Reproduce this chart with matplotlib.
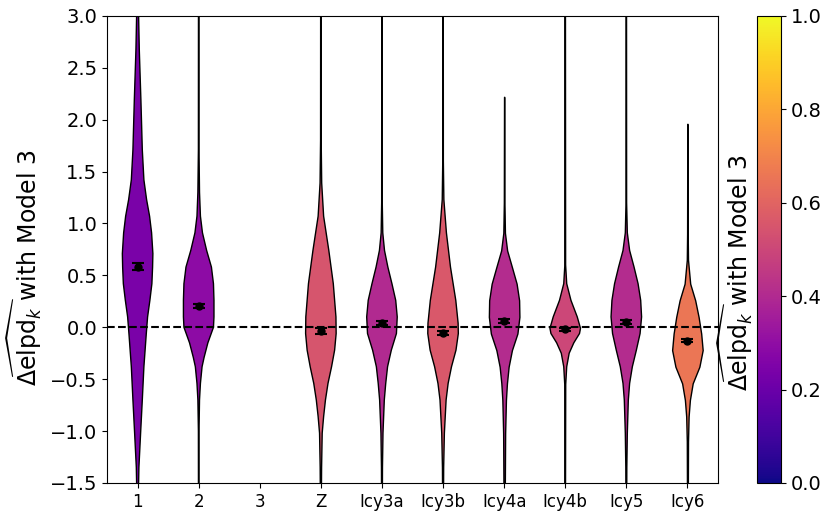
import numpy as np
import matplotlib
matplotlib.use("Agg")
import matplotlib.pyplot as plt
from matplotlib.cm import ScalarMappable
from matplotlib.colors import Normalize

# categories and positions (model 3 is the reference, no violin)
labels = ["1", "2", "3", "Z", "Icy3a", "Icy3b", "Icy4a", "Icy4b", "Icy5", "Icy6"]
positions = [1, 2, 4, 5, 6, 7, 8, 9, 10]

# colour value of each violin on the colorbar scale
cvals = [0.24, 0.29, 0.55, 0.40, 0.56, 0.41, 0.50, 0.41, 0.66]

# mean and error of each model
means = [0.584, 0.205, -0.036, 0.045, -0.058, 0.06, -0.02, 0.048, -0.129]
errs = [0.032, 0.02, 0.028, 0.02, 0.02, 0.02, 0.012, 0.018, 0.015]

# violin outlines: y values and relative widths
y1 = [-2.0, -1.5, -1.35, -1.02, -0.70, -0.38, -0.06, 0.10, 0.26, 0.42, 0.58, 0.71, 0.91, 1.07, 1.23, 1.42, 1.71, 2.19, 2.67, 3.0, 3.5]
w1 = [0.6, 1.0, 1.3, 3.0, 4.7, 6.3, 8.7, 10.0, 12.3, 14.3, 15.0, 15.3, 14.0, 12.0, 9.0, 6.3, 4.7, 3.3, 1.7, 1.0, 0.3]

y2 = [-2.0, -1.0, -0.70, -0.54, -0.38, -0.29, -0.15, 0.0, 0.10, 0.26, 0.42, 0.58, 0.74, 0.91, 1.07, 1.30, 1.71, 3.5]
w2 = [0.2, 0.3, 0.8, 1.7, 3.3, 5.3, 9.0, 14.5, 15.0, 15.0, 14.5, 12.5, 7.8, 3.7, 1.7, 0.8, 0.3, 0.2]

yz = [-2.0, -1.5, -1.35, -1.02, -0.86, -0.70, -0.54, -0.38, -0.22, -0.06, 0.10, 0.42, 0.74, 1.07, 1.39, 1.8, 3.5]
wz = [0.4, 0.6, 0.7, 1.3, 2.7, 4.5, 7.0, 10.5, 13.5, 15.0, 14.8, 12.2, 7.8, 2.7, 0.8, 0.3, 0.2]

y3a = [-2.0, -1.35, -1.02, -0.70, -0.54, -0.38, -0.22, -0.06, 0.10, 0.26, 0.42, 0.58, 0.74, 0.91, 1.2, 3.5]
w3a = [0.3, 0.5, 1.0, 2.3, 3.7, 5.5, 9.2, 14.2, 15.0, 13.5, 9.8, 5.8, 2.5, 0.8, 0.3, 0.2]

y3b = [-2.0, -1.35, -1.02, -0.70, -0.54, -0.38, -0.22, -0.06, 0.04, 0.26, 0.58, 0.91, 1.23, 1.6, 3.5]
w3b = [0.3, 0.6, 1.3, 3.0, 5.0, 8.3, 12.7, 15.0, 14.8, 12.5, 7.3, 3.3, 0.8, 0.3, 0.2]

y4a = [-2.0, -1.02, -0.70, -0.54, -0.38, -0.22, -0.06, 0.10, 0.26, 0.42, 0.58, 0.74, 0.91, 1.2, 2.22]
w4a = [0.4, 1.0, 1.8, 2.8, 4.5, 7.8, 13.3, 15.3, 15.0, 12.5, 7.8, 3.0, 0.8, 0.3, 0.1]

y4b = [-2.0, -0.55, -0.38, -0.25, -0.15, -0.06, -0.01, 0.10, 0.26, 0.42, 0.6, 3.5]
w4b = [0.2, 0.5, 1.5, 4.0, 8.7, 14.5, 15.5, 12.2, 5.8, 1.5, 0.4, 0.2]

y5 = [-2.0, -1.35, -1.02, -0.70, -0.54, -0.38, -0.22, -0.06, 0.10, 0.26, 0.42, 0.58, 0.74, 0.91, 1.2, 3.5]
w5 = [0.3, 0.5, 1.0, 2.0, 3.3, 6.0, 10.0, 13.7, 15.2, 14.3, 11.7, 7.7, 3.3, 1.0, 0.3, 0.2]

y6 = [-2.0, -1.1, -0.86, -0.70, -0.54, -0.38, -0.22, -0.06, 0.10, 0.26, 0.42, 0.65, 0.9, 1.96]
w6 = [0.3, 0.6, 1.2, 2.5, 5.3, 12.0, 15.3, 13.8, 11.2, 7.8, 2.8, 0.6, 0.3, 0.1]

ys = [y1, y2, yz, y3a, y3b, y4a, y4b, y5, y6]
ws = [w1, w2, wz, w3a, w3b, w4a, w4b, w5, w6]

fig = plt.figure(figsize=(8.3, 5.19), dpi=100)
ax = fig.add_axes([0.129, 0.0694, 0.736, 0.9])
cax = fig.add_axes([0.912, 0.0694, 0.029, 0.9])

cmap = plt.get_cmap("plasma")

vpstats = []
for y, w, m in zip(ys, ws, means):
    vpstats.append(dict(coords=np.array(y), vals=np.array(w), mean=m,
                        median=m, min=y[0], max=y[-1]))

parts = ax.violin(vpstats, positions=positions, widths=0.5,
                  showmeans=False, showextrema=False, showmedians=False)
for body, c in zip(parts["bodies"], cvals):
    body.set_facecolor(cmap(c))
    body.set_edgecolor("black")
    body.set_linewidth(1.0)
    body.set_alpha(1)

ax.errorbar(positions, means, yerr=errs, fmt="o", color="black",
            markersize=5, capsize=4, elinewidth=1.5, capthick=1.5, zorder=5)

ax.axhline(0, color="black", linestyle="--", linewidth=1.5, zorder=4)

ax.set_xlim(0.5, 10.5)
ax.set_ylim(-1.5, 3.0)
ax.set_xticks(range(1, 11))
ax.set_xticklabels(labels, fontsize=12)
ax.tick_params(axis="y", labelsize=14)
ylab = r"$\widehat{\Delta\mathrm{elpd}_k}$ with Model 3"
ax.set_ylabel(ylab, fontsize=17)
ax.yaxis.set_label_coords(-0.103, 0.46)

sm = ScalarMappable(norm=Normalize(0, 1), cmap=cmap)
cb = fig.colorbar(sm, cax=cax)
cb.ax.tick_params(labelsize=14)
cb.ax.yaxis.set_label_position("left")
cb.set_label(ylab, fontsize=17)
cb.ax.yaxis.set_label_coords(-0.08, 0.451)

fig.savefig("out.png", dpi=100)
